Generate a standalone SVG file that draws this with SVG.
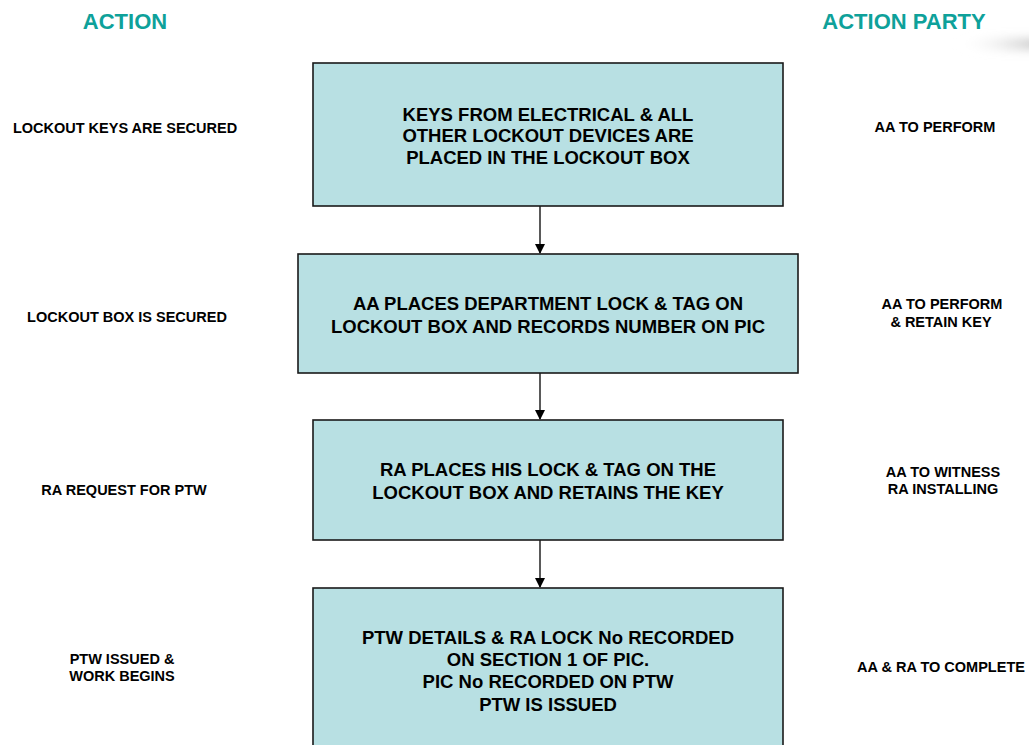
<svg xmlns="http://www.w3.org/2000/svg" width="1029" height="745" viewBox="0 0 1029 745">
<style>
.box{fill:#B8E0E3;stroke:#1a1a1a;stroke-width:1.6}
.bt{font-family:"Liberation Sans",Arial,sans-serif;font-weight:bold;font-size:18.5px;fill:#000;text-anchor:middle}
.st{font-family:"Liberation Sans",Arial,sans-serif;font-weight:bold;font-size:14.5px;fill:#000;text-anchor:middle}
.hd{font-family:"Liberation Sans",Arial,sans-serif;font-weight:bold;font-size:22px;fill:#0EA19A;text-anchor:middle}
.conn{stroke:#000;stroke-width:1.3;fill:none}
</style>
<defs>
<marker id="ah" markerWidth="10" markerHeight="10" refX="9" refY="5" orient="auto" markerUnits="userSpaceOnUse">
<path d="M0,0 L10,5 L0,10 Z" fill="#000"/>
</marker>
<filter id="blur" x="-50%" y="-100%" width="200%" height="300%"><feGaussianBlur stdDeviation="5"/></filter>
<linearGradient id="sh" x1="0" y1="0" x2="1" y2="0"><stop offset="0" stop-color="#ffffff" stop-opacity="0"/><stop offset="1" stop-color="#9a9a9a"/></linearGradient>
</defs>
<rect width="1029" height="745" fill="#fff"/>
<ellipse cx="1010" cy="44" rx="55" ry="6" fill="url(#sh)" filter="url(#blur)"/>
<text class="hd" x="125" y="29">ACTION</text>
<text class="hd" x="904" y="29">ACTION PARTY</text>
<g id="connectors">
<line class="conn" x1="540" y1="206" x2="540" y2="253" marker-end="url(#ah)"/>
<line class="conn" x1="540" y1="373" x2="540" y2="419" marker-end="url(#ah)"/>
<line class="conn" x1="540" y1="540" x2="540" y2="587" marker-end="url(#ah)"/>
</g>
<g id="node1">
<rect class="box" x="313" y="63" width="470" height="143"/>
<text class="bt" x="548" y="121">KEYS FROM ELECTRICAL &amp; ALL</text>
<text class="bt" x="548" y="142">OTHER LOCKOUT DEVICES ARE</text>
<text class="bt" x="548" y="163.5">PLACED IN THE LOCKOUT BOX</text>
</g>
<g id="node2">
<rect class="box" x="298" y="254" width="500" height="119"/>
<text class="bt" x="548" y="309.5">AA PLACES DEPARTMENT LOCK &amp; TAG ON</text>
<text class="bt" x="548" y="332.5">LOCKOUT BOX AND RECORDS NUMBER ON PIC</text>
</g>
<g id="node3">
<rect class="box" x="313" y="420" width="470" height="120"/>
<text class="bt" x="548" y="475.5">RA PLACES HIS LOCK &amp; TAG ON THE</text>
<text class="bt" x="548" y="498.5">LOCKOUT BOX AND RETAINS THE KEY</text>
</g>
<g id="node4">
<rect class="box" x="313" y="588" width="470" height="170"/>
<text class="bt" x="548" y="643.5">PTW DETAILS &amp; RA LOCK No RECORDED</text>
<text class="bt" x="548" y="665.5">ON SECTION 1 OF PIC.</text>
<text class="bt" x="548" y="687.5">PIC No RECORDED ON PTW</text>
<text class="bt" x="548" y="710.5">PTW IS ISSUED</text>
</g>
<g id="left-labels">
<text class="st" x="125" y="133">LOCKOUT KEYS ARE SECURED</text>
<text class="st" x="127" y="322">LOCKOUT BOX IS SECURED</text>
<text class="st" x="124" y="495">RA REQUEST FOR PTW</text>
<text class="st" x="122" y="664">PTW ISSUED &amp;</text>
<text class="st" x="122" y="681">WORK BEGINS</text>
</g>
<g id="right-labels">
<text class="st" x="935" y="132">AA TO PERFORM</text>
<text class="st" x="942" y="309">AA TO PERFORM</text>
<text class="st" x="941" y="327">&amp; RETAIN KEY</text>
<text class="st" x="943" y="477">AA TO WITNESS</text>
<text class="st" x="943" y="494">RA INSTALLING</text>
<text class="st" x="941" y="672">AA &amp; RA TO COMPLETE</text>
</g>
</svg>
